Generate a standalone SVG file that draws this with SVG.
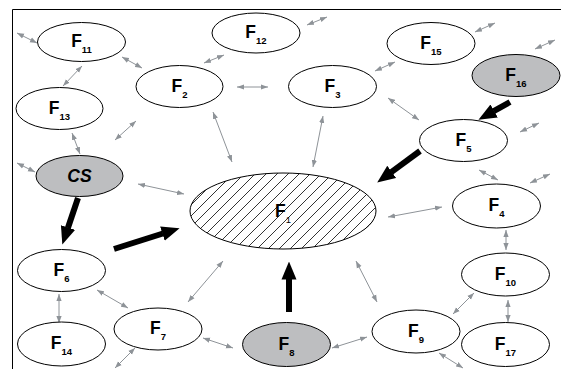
<svg xmlns="http://www.w3.org/2000/svg" width="561" height="369" viewBox="0 0 561 369">
<style>
.n{fill:#fff;stroke:#000;stroke-width:1}
.g{fill:#bdbec0;stroke:#000;stroke-width:1}
.t{font-family:"Liberation Sans",Arial,sans-serif;font-weight:bold;font-size:17.5px;fill:#000}
.s{font-size:9.5px}
.c{stroke:#8e9398;stroke-width:1;fill:none;marker-start:url(#ga);marker-end:url(#ga)}
.b{stroke:#000;stroke-width:6;fill:none;marker-end:url(#ba)}
.f{stroke:#000;stroke-width:1;fill:none}
</style>
<defs>
<marker id="ga" viewBox="0 -3 7 6" markerWidth="7" markerHeight="6" refX="7" refY="0" orient="auto-start-reverse" markerUnits="userSpaceOnUse"><path d="M0,-2.6 L7,0 L0,2.6 z" fill="#8e9398"/></marker>
<marker id="ba" viewBox="0 -8 18 16" markerWidth="18" markerHeight="16" refX="0.5" refY="0" orient="auto" markerUnits="userSpaceOnUse"><path d="M0,-7.5 L18,0 L0,7.5 z" fill="#000"/></marker>
<pattern id="h" patternUnits="userSpaceOnUse" width="11" height="11"><path d="M-3,3 L3,-3 M0,11 L11,0 M8,14 L14,8" stroke="#000" stroke-width="0.8"/></pattern>
</defs>
<path class="f" d="M12.5,369 V9.5 H561"/>
<g id="connectors">
<line class="c" x1="17" y1="33" x2="37" y2="43"/>
<line class="c" x1="122" y1="57" x2="142" y2="68"/>
<line class="c" x1="204" y1="63" x2="224" y2="55"/>
<line class="c" x1="237" y1="87" x2="268" y2="87"/>
<line class="c" x1="63" y1="86" x2="82" y2="66"/>
<line class="c" x1="115" y1="140" x2="136" y2="121"/>
<line class="c" x1="72" y1="133" x2="80" y2="154"/>
<line class="c" x1="17" y1="163" x2="35" y2="172"/>
<line class="c" x1="213" y1="112" x2="232" y2="162"/>
<line class="c" x1="138" y1="184" x2="184" y2="194"/>
<line class="c" x1="307" y1="25" x2="327" y2="17"/>
<line class="c" x1="475" y1="32" x2="495" y2="23"/>
<line class="c" x1="535" y1="49" x2="555" y2="40"/>
<line class="c" x1="375" y1="71" x2="395" y2="62"/>
<line class="c" x1="388" y1="98" x2="419" y2="120"/>
<line class="c" x1="323" y1="116" x2="313" y2="167"/>
<line class="c" x1="520" y1="132" x2="539" y2="123"/>
<line class="c" x1="479" y1="170" x2="498" y2="180"/>
<line class="c" x1="530" y1="183" x2="550" y2="174"/>
<line class="c" x1="388" y1="217" x2="442" y2="207"/>
<line class="c" x1="506" y1="230" x2="506" y2="250"/>
<line class="c" x1="508" y1="300" x2="508" y2="322"/>
<line class="c" x1="453" y1="314" x2="474" y2="293"/>
<line class="c" x1="356" y1="261" x2="377" y2="302"/>
<line class="c" x1="332" y1="348" x2="367" y2="337"/>
<line class="c" x1="439" y1="353" x2="463" y2="368"/>
<line class="c" x1="59" y1="294" x2="59" y2="323"/>
<line class="c" x1="97" y1="290" x2="128" y2="308"/>
<line class="c" x1="188" y1="302" x2="223" y2="261"/>
<line class="c" x1="203" y1="338" x2="233" y2="348"/>
<line class="c" x1="115" y1="368" x2="135" y2="348"/>
<line class="b" x1="78" y1="198" x2="67.9" y2="228"/>
<line class="b" x1="114" y1="249" x2="162.9" y2="233.5"/>
<line class="b" x1="289" y1="312" x2="289" y2="279"/>
<line class="b" x1="420" y1="151" x2="391.3" y2="172.1"/>
<line class="b" x1="510" y1="102" x2="493.7" y2="111.2"/>
</g>
<g id="F1"><ellipse cx="283" cy="211" rx="93" ry="38" fill="#fff" stroke="none"/><ellipse cx="283" cy="211" rx="93" ry="38" fill="url(#h)" stroke="#000"/><text class="t" x="283" y="217" text-anchor="middle">F<tspan class="s" dy="6" font-weight="normal">1</tspan></text></g>
<g id="F2"><ellipse class="n" cx="179.5" cy="86.5" rx="43.5" ry="21"/><text class="t" x="179.5" y="91.5" text-anchor="middle">F<tspan class="s" dy="6">2</tspan></text></g>
<g id="F3"><ellipse class="n" cx="332.5" cy="86.5" rx="44" ry="21"/><text class="t" x="332.5" y="91.5" text-anchor="middle">F<tspan class="s" dy="6">3</tspan></text></g>
<g id="F4"><ellipse class="n" cx="496.5" cy="206" rx="44" ry="22"/><text class="t" x="496.5" y="211" text-anchor="middle">F<tspan class="s" dy="6">4</tspan></text></g>
<g id="F5"><ellipse class="n" cx="463.5" cy="140.5" rx="44" ry="21"/><text class="t" x="463.5" y="145.5" text-anchor="middle">F<tspan class="s" dy="6">5</tspan></text></g>
<g id="F6"><ellipse class="n" cx="61.5" cy="270.5" rx="44" ry="21"/><text class="t" x="61.5" y="275.5" text-anchor="middle">F<tspan class="s" dy="6">6</tspan></text></g>
<g id="F7"><ellipse class="n" cx="158" cy="329" rx="44" ry="21"/><text class="t" x="158" y="334" text-anchor="middle">F<tspan class="s" dy="6">7</tspan></text></g>
<g id="F8"><ellipse class="g" cx="286.5" cy="344.5" rx="44" ry="22"/><text class="t" x="286.5" y="349.5" text-anchor="middle">F<tspan class="s" dy="6">8</tspan></text></g>
<g id="F9"><ellipse class="n" cx="416" cy="331.5" rx="44" ry="21.5"/><text class="t" x="416" y="336.5" text-anchor="middle">F<tspan class="s" dy="6">9</tspan></text></g>
<g id="F10"><ellipse class="n" cx="505.5" cy="274.5" rx="44" ry="21.5"/><text class="t" x="505.5" y="279.5" text-anchor="middle">F<tspan class="s" dy="6">10</tspan></text></g>
<g id="F11"><ellipse class="n" cx="81.5" cy="42" rx="44" ry="19.5"/><text class="t" x="81.5" y="47" text-anchor="middle">F<tspan class="s" dy="6">11</tspan></text></g>
<g id="F12"><ellipse class="n" cx="256" cy="33" rx="44" ry="20"/><text class="t" x="256" y="38" text-anchor="middle">F<tspan class="s" dy="6">12</tspan></text></g>
<g id="F13"><ellipse class="n" cx="59.5" cy="108.5" rx="43.5" ry="21"/><text class="t" x="59.5" y="113.5" text-anchor="middle">F<tspan class="s" dy="6">13</tspan></text></g>
<g id="F14"><ellipse class="n" cx="61.5" cy="344" rx="44" ry="22"/><text class="t" x="61.5" y="349" text-anchor="middle">F<tspan class="s" dy="6">14</tspan></text></g>
<g id="F15"><ellipse class="n" cx="431" cy="43.5" rx="44" ry="21"/><text class="t" x="431" y="48.5" text-anchor="middle">F<tspan class="s" dy="6">15</tspan></text></g>
<g id="F16"><ellipse class="g" cx="516" cy="75.5" rx="44" ry="21"/><text class="t" x="516" y="80.5" text-anchor="middle">F<tspan class="s" dy="6">16</tspan></text></g>
<g id="F17"><ellipse class="n" cx="505.5" cy="344.5" rx="44" ry="22"/><text class="t" x="505.5" y="349.5" text-anchor="middle">F<tspan class="s" dy="6">17</tspan></text></g>
<g id="CS"><ellipse class="g" cx="79.5" cy="176" rx="43.5" ry="20.5"/><text class="t" x="79.5" y="182" text-anchor="middle" font-style="italic">CS</text></g>
</svg>
